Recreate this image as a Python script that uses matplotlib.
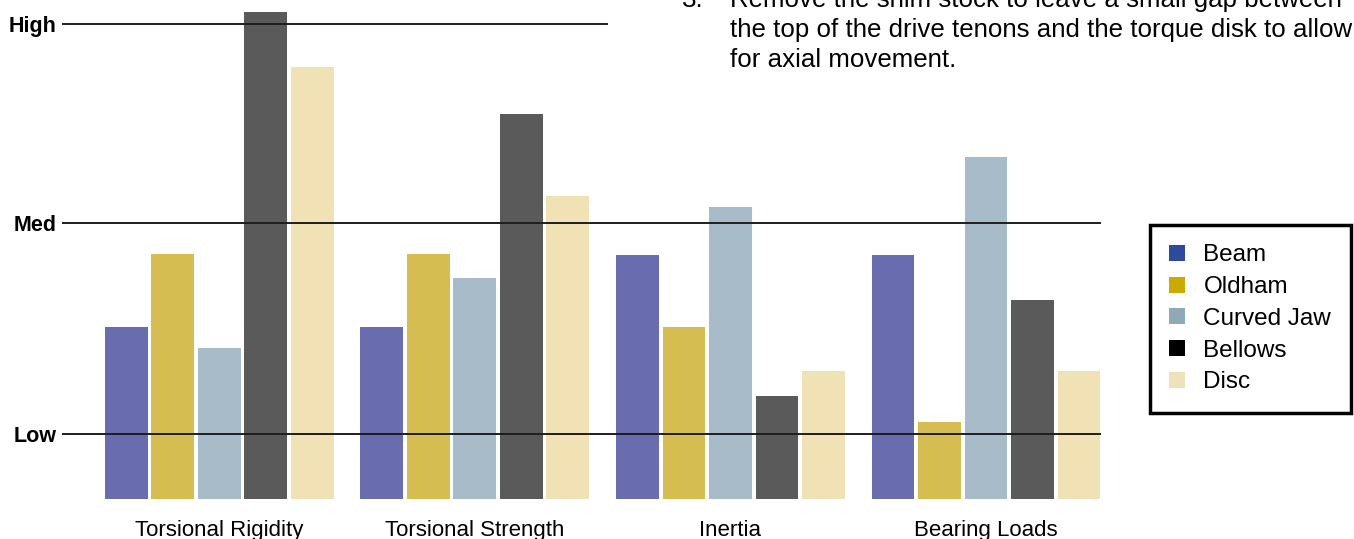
import numpy as np
import matplotlib.pyplot as plt
from matplotlib.patches import Patch, Rectangle

categories = ['Torsional Rigidity', 'Torsional Strength', 'Inertia', 'Bearing Loads']
series = ['Beam', 'Oldham', 'Curved Jaw', 'Bellows', 'Disc']
values = {
    'Beam':       [34.5, 34.5, 48.9, 48.9],
    'Oldham':     [49.1, 49.1, 34.5, 15.4],
    'Curved Jaw': [30.3, 44.3, 58.5, 68.5],
    'Bellows':    [97.6, 77.2, 20.6, 39.9],
    'Disc':       [86.6, 60.7, 25.7, 25.7],
}
level_names = ['Low', 'Med', 'High']
level_values = [13.0, 55.3, 95.2]

bar_colors = ['#6a6cb0', '#d6bd52', '#a7bcc8', '#5a5a5a', '#f0e2b5']
legend_colors = ['#2e4a9c', '#ccaa00', '#8fa9b8', '#000000', '#f0e2b8']

W, H = 1354, 539
fig = plt.figure(figsize=(W / 100, H / 100), dpi=100)
ax = fig.add_axes((62 / W, 40 / H, (1101 - 62) / W, 499 / H))

ind = np.arange(len(categories))
step = 0.182
width = 0.168
for j, s in enumerate(series):
    ax.bar(ind + (j - 2) * step, values[s], width, color=bar_colors[j], zorder=1)

for v in level_values:
    ax.axhline(v, color='#1e1e1e', lw=1.4, zorder=3)

ax.set_xlim(-0.616, 3.450)
ax.set_ylim(0, 100)
ax.set_yticks(level_values)
ax.set_yticklabels(level_names, fontsize=15.5, fontweight='bold', family='Liberation Sans')
ax.tick_params(axis='y', length=0, pad=3.6)
ax.set_xticks(ind)
ax.set_xticklabels(categories, fontsize=16, family='Liberation Sans')
ax.tick_params(axis='x', length=0, pad=15)
for sp in ax.spines.values():
    sp.set_visible(False)

# note text at top right, covering part of the High line
fig.patches.append(Rectangle((608 / W, 1 - 95 / H), 1 - 608 / W, 95 / H,
                             transform=fig.transFigure, facecolor='white',
                             edgecolor='none', zorder=2))
note = ['Remove the shim stock to leave a small gap between',
        'the top of the drive tenons and the torque disk to allow',
        'for axial movement.']
base = [7, 37, 67]
fig.text(682 / W, 1 - base[0] / H, '3.', fontsize=18.6, family='Liberation Sans',
         va='baseline', zorder=4)
for t, b in zip(note, base):
    fig.text(730 / W, 1 - b / H, t, fontsize=18.6, family='Liberation Sans',
             va='baseline', zorder=4)

handles = [Patch(facecolor=c, edgecolor='none') for c in legend_colors]
leg = fig.legend(handles, series, loc='upper left',
                 bbox_to_anchor=(1150 / W, 1 - 225 / H), borderaxespad=0,
                 prop={'family': 'Liberation Sans', 'size': 17.5},
                 handlelength=0.65, handleheight=0.65, handletextpad=0.75,
                 labelspacing=0.4, borderpad=0.8, fancybox=False, framealpha=1)
leg.get_frame().set_edgecolor('black')
leg.get_frame().set_linewidth(2.5)

fig.savefig('out.png', dpi=100)
